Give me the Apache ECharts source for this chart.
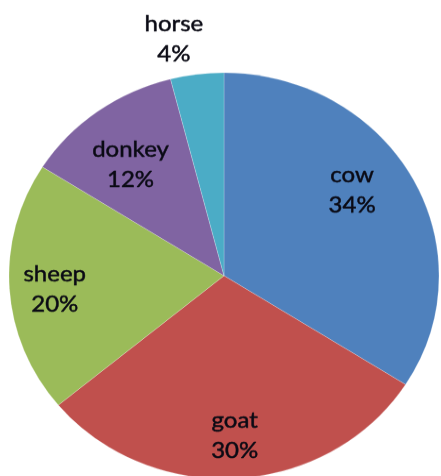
<!DOCTYPE html>
<html>
<head>
<meta charset="utf-8">
<script src="https://cdn.jsdelivr.net/npm/echarts@6/dist/echarts.min.js"></script>
<style>
  html, body { margin: 0; padding: 0; background: #ffffff; overflow: hidden; }
  #wrap { width: 441px; height: 476px; overflow: hidden; }
  /* the pie is slightly flattened: draw on a taller canvas and squash it */
  #chart { width: 441px; height: 504px; transform: scaleY(0.9442); transform-origin: 0 0; }
</style>
</head>
<body>
<div id="wrap"><div id="chart"></div></div>
<script>
// Share of animals, in percent
const animals = ['cow', 'goat', 'sheep', 'donkey', 'horse'];
const shares = [34, 30, 20, 12, 4];
const sliceColors = ['#4F81BD', '#C0504D', '#9BBB59', '#8064A2', '#4BACC6'];

// Label placement: distance from centre as a fraction of the radius,
// and a small angular nudge (degrees) from the slice's middle
const labelRadius = [0.73, 0.79, 0.79, 0.70, 1.19];
const labelNudge = [-6.5, 0, -1.2, -2.4, -4.1];

const CX = 224, CY = 292, R = 215;

const chart = echarts.init(document.getElementById('chart'), null, { renderer: 'canvas' });

chart.setOption({
  animation: false,
  backgroundColor: '#ffffff',
  series: [{
    type: 'pie',
    center: [CX, CY],
    radius: [0, R],
    startAngle: 90,
    clockwise: true,
    data: animals.map((name, i) => ({
      name: name,
      value: shares[i],
      itemStyle: { color: sliceColors[i] }
    })),
    itemStyle: { borderColor: 'rgba(255,255,255,0.35)', borderWidth: 0.6 },
    label: {
      show: true,
      position: 'inside',
      formatter: p => p.name + '\n' + p.value + '%',
      fontFamily: 'Lato, "Open Sans", sans-serif',
      fontSize: 24,
      lineHeight: 32,
      color: '#0a0a14',
      textBorderColor: '#0a0a14',
      textBorderWidth: 0.5,
      align: 'center',
      verticalAlign: 'middle'
    },
    labelLine: { show: false },
    emphasis: { disabled: true },
    labelLayout: function (p) {
      const r = p.labelRect;
      const lx = r.x + r.width / 2;
      const ly = r.y + r.height / 2;
      const a = Math.atan2(lx - CX, -(ly - CY)) + labelNudge[p.dataIndex] * Math.PI / 180;
      const rr = R * labelRadius[p.dataIndex];
      return {
        x: CX + rr * Math.sin(a),
        y: CY - rr * Math.cos(a),
        align: 'center',
        verticalAlign: 'middle'
      };
    }
  }]
});
</script>
</body>
</html>
